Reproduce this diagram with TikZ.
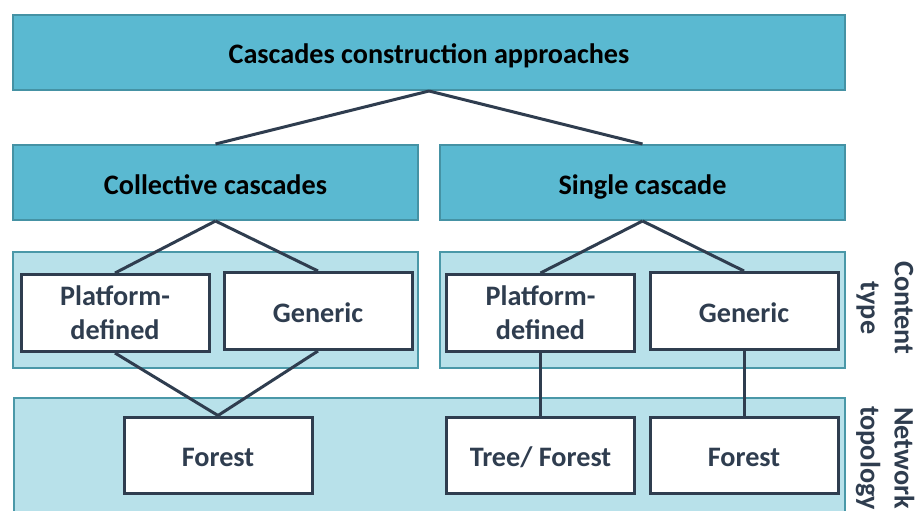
\documentclass[tikz,border=0pt]{standalone}
\usepackage{fontspec}
\setmainfont{Carlito}
\definecolor{paper}{HTML}{FFFFFF}
\definecolor{navy}{HTML}{2F3D4F}
\definecolor{aqua}{HTML}{5AB9D1}
\definecolor{aquarim}{HTML}{4592A4}
\definecolor{pale}{HTML}{B8E1EA}
\definecolor{palerim}{HTML}{4A98A8}
\newcommand{\boxfont}{\bfseries\fontsize{28.2}{34}\selectfont}
\tikzset{
  headbox/.style={draw=aquarim,fill=aqua,line width=2pt,text=black,
                  minimum height=75,inner sep=0pt,font=\boxfont,oneline},
  band/.style={draw=palerim,fill=pale,line width=2.5pt,inner sep=0pt},
  leafbox/.style={draw=navy,fill=paper,line width=3pt,text=navy,
                  minimum width=188,minimum height=76,inner sep=0pt,
                  align=center,font=\boxfont},
  oneline/.style={text height=24,text depth=1},
  link/.style={draw=navy,line width=3pt},
  sidelabel/.style={text=navy,rotate=-90,align=center,font=\boxfont}
}

\begin{document}
\begin{tikzpicture}[x=1pt,y=-1pt]
  \useasboundingbox (0,0) rectangle (916,511);
  \clip (0,0) rectangle (916,511);
  \fill[paper] (0,0) rectangle (916,511);

  % ======================== BACKGROUND BANDS ========================
  \node[band,minimum width=405,minimum height=116] (ctypeL) at (215.5,310) {};
  \node[band,minimum width=405,minimum height=116] (ctypeR) at (642.5,310) {};
  \node[band,minimum width=831,minimum height=150] (topo) at (429.5,473) {};

  % ======================== HEADER BOXES ========================
  \node[headbox,minimum width=832] (root) at (429,52.5)
    {Cascades construction approaches};
  \node[headbox,minimum width=405] (coll) at (215.5,182.5)
    {Collective cascades};
  \node[headbox,minimum width=405] (single) at (642.5,182.5)
    {Single cascade};

  % Content type row
  \node[leafbox,minimum height=77] (cplat) at (115,313) {Platform-\\defined};
  \node[leafbox,minimum height=77,oneline] (cgen) at (318,311) {Generic};
  \node[leafbox,minimum height=77] (splat) at (540.5,313) {Platform-\\defined};
  \node[leafbox,minimum height=77,oneline] (sgen) at (744,311) {Generic};

  % Network topology row
  \node[leafbox,oneline] (cforest) at (218,455) {Forest};
  \node[leafbox,oneline] (stree) at (540.5,455) {Tree/ Forest};
  \node[leafbox,oneline] (sforest) at (744,455) {Forest};

  % ======================== CONNECTORS ========================
  \draw[link] (root.south)--(coll.north);
  \draw[link] (root.south)--(single.north);
  \draw[link] (coll.south)--(cplat.north);
  \draw[link] (coll.south)--(cgen.north);
  \draw[link] (single.south)--(splat.north);
  \draw[link] (single.south)--(sgen.north);
  \draw[link] (cplat.south)--(cforest.north);
  \draw[link] (cgen.south)--(cforest.north);
  \draw[link] (splat.south)--(stree.north);
  \draw[link] (sgen.south)--(sforest.north);

  % Side labels
  \node[sidelabel] (lblcontent) at (885,308) {Content\\type};
  \node[sidelabel] (lbltopo) at (885,458) {Network\\topology};
\end{tikzpicture}
\end{document}
